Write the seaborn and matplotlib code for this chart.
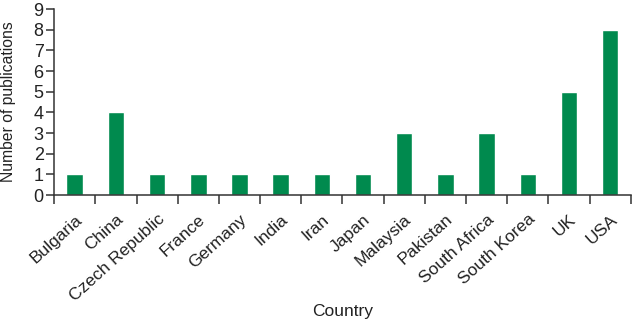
import matplotlib
matplotlib.use("Agg")
import matplotlib.pyplot as plt
import seaborn as sns
import pandas as pd
import numpy as np

countries = ["Bulgaria", "China", "Czech Republic", "France", "Germany", "India",
             "Iran", "Japan", "Malaysia", "Pakistan", "South Africa", "South Korea",
             "UK", "USA"]
publications = [1, 4, 1, 1, 1, 1, 1, 1, 3, 1, 3, 1, 5, 8]
y_ticks = list(range(0, 10))

sns.set_theme(style="ticks")
plt.rcParams['font.family'] = ['Liberation Sans', 'DejaVu Sans']

df = pd.DataFrame({"Country": countries, "Publications": publications})

fig = plt.figure(figsize=(6.33, 3.25), dpi=100)
ax = fig.add_axes([0.0855, 0.40, 0.911, 0.572])

sns.barplot(data=df, x="Country", y="Publications", color="#008A4E",
            saturation=1, width=0.4, ax=ax)

ax.set_xlim(-0.5, len(countries) - 0.5)
ax.set_ylim(0, 9)
ax.set_yticks(y_ticks)
ax.set_yticklabels([str(t) for t in y_ticks], fontsize=13, color="#222222")

# x ticks at category boundaries, labels at centers
ax.set_xticks(np.arange(len(countries)))
ax.set_xticklabels(countries, rotation=42, ha="right", rotation_mode="anchor",
                   fontsize=12.5, color="#222222")
ax.tick_params(axis="x", which="major", length=0, pad=12)
ax.set_xticks(np.arange(-0.5, len(countries) + 0.5, 1), minor=True)
ax.tick_params(axis="x", which="minor", length=6.5, width=1.1, color="#333333")
ax.tick_params(axis="y", length=5.5, width=1.1, color="#333333", pad=2)

for s in ["top", "right"]:
    ax.spines[s].set_visible(False)
for s in ["left", "bottom"]:
    ax.spines[s].set_linewidth(1.1)
    ax.spines[s].set_color("#333333")

ax.set_xlabel("Country", fontsize=12.5, color="#222222")
ax.set_ylabel("Number of publications", fontsize=11.3, color="#222222")
ax.xaxis.set_label_coords(0.5, -0.585)
ax.yaxis.set_label_coords(-0.066, 0.5)

fig.savefig("out.png", dpi=100)
